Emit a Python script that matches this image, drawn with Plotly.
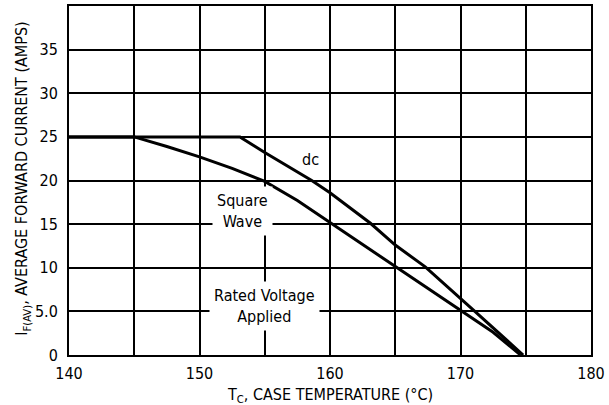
import plotly.graph_objects as go

# Data
sq_x = [140, 145, 147.5, 150, 152.5, 155, 157.5, 160, 162.5, 165, 167.5, 170, 172.5, 174.6]
sq_y = [25, 25, 23.9, 22.7, 21.4, 19.9, 17.7, 15.2, 12.7, 10.2, 7.7, 5.1, 2.6, 0]

dc_x = [140, 153.1, 155, 158.6, 160, 163.1, 165, 167.3, 171.1, 174.8]
dc_y = [25, 25, 23.2, 20, 18.6, 15.1, 12.6, 10.1, 5, 0]

x_tickvals = [140, 145, 150, 155, 160, 165, 170, 175, 180]
x_ticktext = ["140", "", "150", "", "160", "", "170", "", "180"]
y_tickvals = [0, 5, 10, 15, 20, 25, 30, 35, 40]
y_ticktext = ["0", "5.0", "10", "15", "20", "25", "30", "35", ""]

FONT = "DejaVu Sans Condensed, Liberation Sans Narrow, sans-serif"

fig = go.Figure()
fig.add_trace(go.Scatter(x=sq_x, y=sq_y, mode="lines",
                         line=dict(color="black", width=3),
                         name="Square Wave", showlegend=False))
fig.add_trace(go.Scatter(x=dc_x, y=dc_y, mode="lines",
                         line=dict(color="black", width=3),
                         name="dc", showlegend=False))

fig.add_annotation(x=158.5, y=22.4, text="dc", showarrow=False,
                   font=dict(size=16, color="black", family=FONT))
fig.add_annotation(x=153.3, y=16.5, text="Square<br>Wave", showarrow=False,
                   bgcolor="white", borderpad=4,
                   font=dict(size=16, color="black", family=FONT))
fig.add_annotation(x=155, y=5.6, text="Rated Voltage<br>Applied", showarrow=False,
                   bgcolor="white", borderpad=4,
                   font=dict(size=16, color="black", family=FONT))

# Axis titles
fig.add_annotation(xref="paper", yref="paper", x=0.5, y=-0.116, yanchor="middle",
                   xanchor="center", showarrow=False,
                   text="T<sub>C</sub>, CASE TEMPERATURE (°C)",
                   font=dict(size=16, color="black", family=FONT))
fig.add_annotation(xref="paper", yref="paper", x=-0.088, y=0.505, xanchor="center",
                   yanchor="middle", showarrow=False, textangle=-90,
                   text="I<sub>F(AV)</sub>, AVERAGE FORWARD CURRENT (AMPS)",
                   font=dict(size=16, color="black", family=FONT))

axis_common = dict(showgrid=True, gridcolor="black", gridwidth=2,
                   showline=True, linecolor="black", linewidth=2, mirror=True,
                   zeroline=False, ticks="", automargin=False,
                   tickfont=dict(size=16, color="black", family=FONT))

fig.update_xaxes(range=[140, 180], tickvals=x_tickvals, ticktext=x_ticktext,
                 ticklabelstandoff=3, **axis_common)
fig.update_yaxes(range=[0, 40], tickvals=y_tickvals, ticktext=y_ticktext,
                 ticklabelstandoff=6, **axis_common)

fig.update_layout(width=609, height=405, margin=dict(l=69, r=18, t=6, b=50),
                  paper_bgcolor="white", plot_bgcolor="white")

fig.write_html("out.html", config={"displayModeBar": False},
               post_script="document.body.style.margin='0';")
